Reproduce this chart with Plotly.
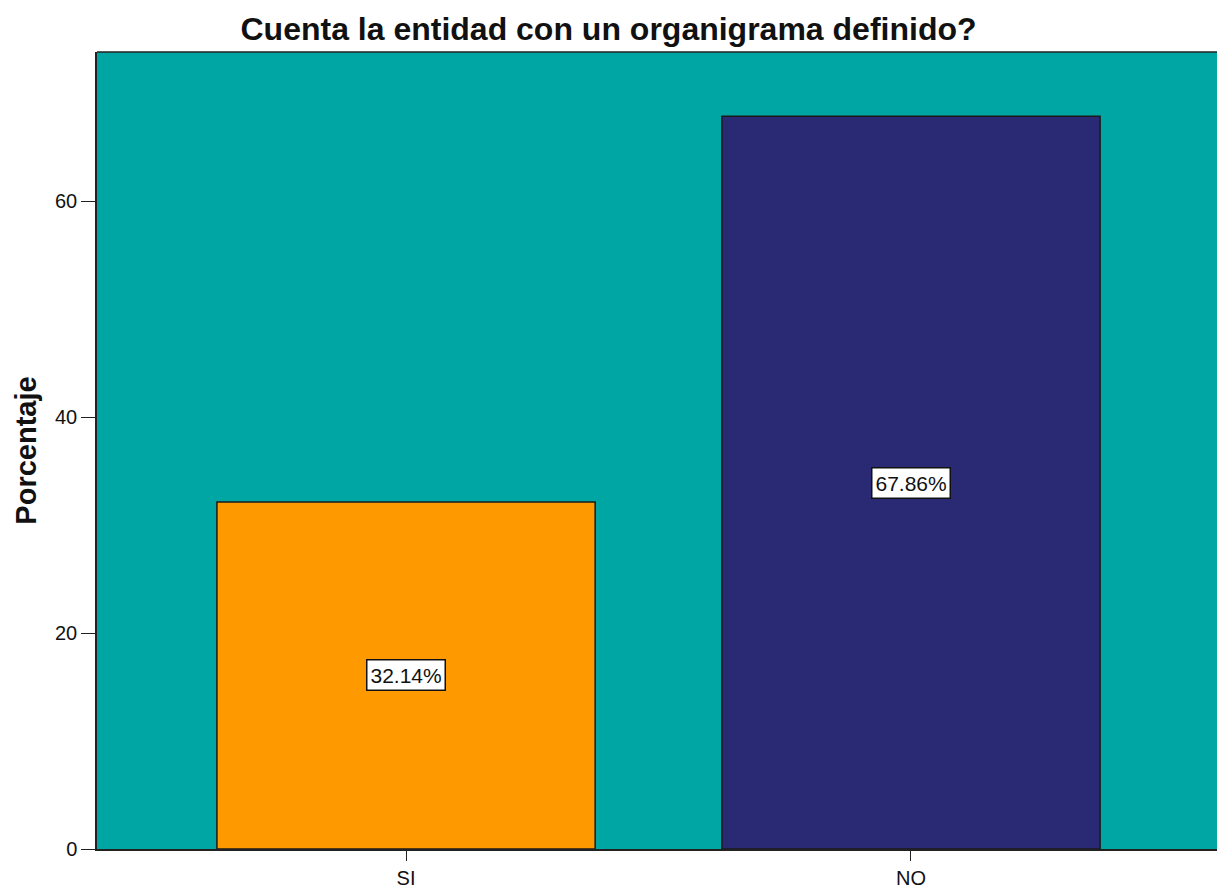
import plotly.graph_objects as go

categories = ["SI", "NO"]
percentages = [32.14, 67.86]
bar_colors = ["#FF9900", "#292A73"]
y_ticks = [0, 20, 40, 60]

FONT = "Liberation Sans, Arial"

fig = go.Figure()
fig.add_trace(go.Bar(
    x=list(range(len(categories))),
    y=percentages,
    width=0.749,
    marker=dict(color=bar_colors, line=dict(color="#1a1a1a", width=1.5)),
    hoverinfo="skip",
))

for i, v in enumerate(percentages):
    fig.add_annotation(
        x=i, y=v / 2, text=f"{v:.2f}%", showarrow=False,
        font=dict(family=FONT, size=21, color="#111111"),
        bgcolor="white", bordercolor="#111111", borderwidth=1.5, borderpad=3,
    )

# top border of the plot frame
fig.add_shape(type="line", xref="paper", yref="paper", x0=0, x1=1, y0=1, y1=1,
              line=dict(color="#222222", width=1.5))

fig.update_layout(
    width=1217, height=888,
    margin=dict(l=97, r=0, t=52, b=39),
    paper_bgcolor="white",
    plot_bgcolor="#00A6A4",
    showlegend=False,
    title=dict(text="<b>Cuenta la entidad con un organigrama definido?</b>",
               x=0.5, xanchor="center", y=0.968, yanchor="middle",
               font=dict(family=FONT, size=32, color="#111111")),
    xaxis=dict(range=[-0.612, 1.606], tickmode="array",
               tickvals=list(range(len(categories))), ticktext=categories,
               showgrid=False, zeroline=False, showline=True,
               linecolor="#222222", linewidth=1.5,
               ticks="outside", ticklen=10, tickcolor="#222222",
               tickfont=dict(family=FONT, size=20, color="#111111")),
    yaxis=dict(range=[0, 73.8], tickmode="array", tickvals=y_ticks,
               showgrid=False, zeroline=False, showline=True,
               linecolor="#222222", linewidth=1.5,
               ticks="outside", ticklen=14, tickcolor="#222222",
               tickfont=dict(family=FONT, size=20, color="#111111"),
               title=dict(text="<b>Porcentaje</b>", standoff=10,
                          font=dict(family=FONT, size=29, color="#111111"))),
)

fig.write_html("out.html")
